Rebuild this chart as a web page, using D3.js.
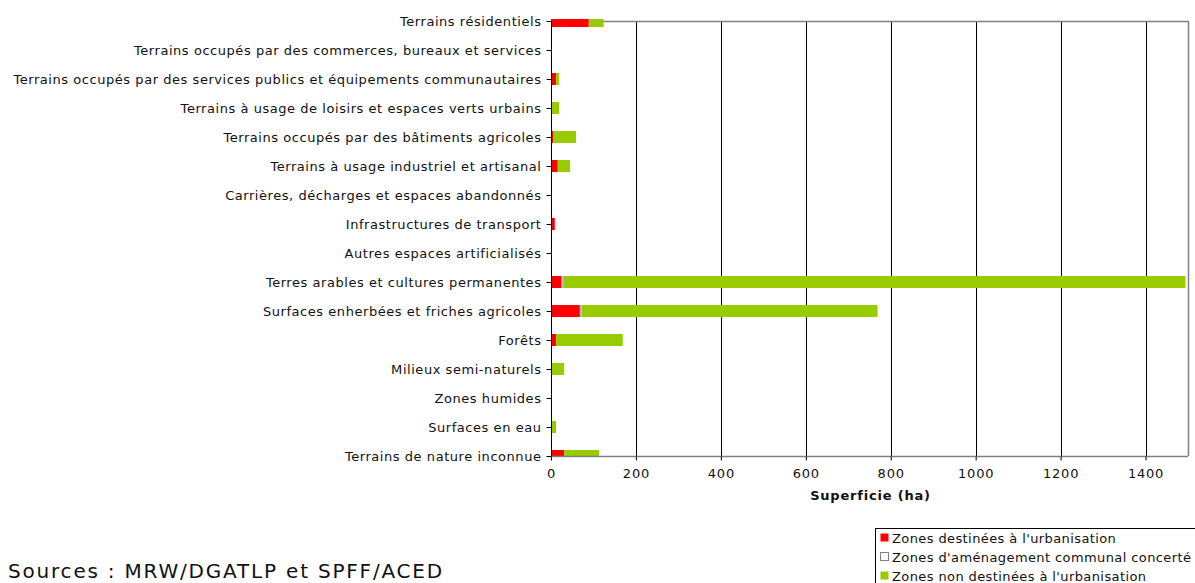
<!DOCTYPE html>
<html>
<head>
<meta charset="utf-8">
<script src="https://cdn.jsdelivr.net/npm/d3@7"></script>
<style>
  html, body { margin: 0; padding: 0; background: #fff; }
  svg { display: block; font-family: "DejaVu Sans", Verdana, sans-serif; }
</style>
</head>
<body>
<svg id="chart" width="1195" height="583"></svg>
<script>
const categories = [
  "Terrains résidentiels",
  "Terrains occupés par des commerces, bureaux et services",
  "Terrains occupés par des services publics et équipements communautaires",
  "Terrains à usage de loisirs et espaces verts urbains",
  "Terrains occupés par des bâtiments agricoles",
  "Terrains à usage industriel et artisanal",
  "Carrières, décharges et espaces abandonnés",
  "Infrastructures de transport",
  "Autres espaces artificialisés",
  "Terres arables et cultures permanentes",
  "Surfaces enherbées et friches agricoles",
  "Forêts",
  "Milieux semi-naturels",
  "Zones humides",
  "Surfaces en eau",
  "Terrains de nature inconnue"
];
const seriesNames = [
  "Zones destinées à l'urbanisation",
  "Zones d'aménagement communal concerté",
  "Zones non destinées à l'urbanisation"
];
const urbanisation    = [89, 0, 12, 0, 5, 16, 0, 9, 0, 25, 68, 12, 0, 0, 0, 31];
const zacc            = [0, 0, 0, 0, 0, 0, 0, 0, 0, 4, 4, 0, 0, 0, 0, 0];
const nonUrbanisation = [35, 0, 7, 19, 54, 29, 0, 0, 0, 1465, 697, 157, 31, 0, 12, 82];
const xTicks = [0, 200, 400, 600, 800, 1000, 1200, 1400];
const xMax = 1500;
const xTitle = "Superficie (ha)";
const sourceText = "Sources : MRW/DGATLP et SPFF/ACED";

const colors = ["#ff0000", "#ffffff", "#99cc00"];
const strokes = [null, "#808080", null];

const svg = d3.select("#chart");
const L = 551, R = 1188, T = 21, B = 456;
const x = d3.scaleLinear().domain([0, xMax]).range([L, R]);
const y = d3.scalePoint().domain(categories).range([T, B]);
const barH = 12;
const FS = "13px", LS = "0.55px";

// gridlines
svg.append("g").selectAll("line").data(xTicks.filter(d => d > 0)).join("line")
  .attr("x1", d => Math.round(x(d)) + 0.5).attr("x2", d => Math.round(x(d)) + 0.5)
  .attr("y1", T).attr("y2", B)
  .attr("stroke", "#000").attr("stroke-width", 1);

// plot border top/right
svg.append("line").attr("x1", L).attr("x2", R + 0.5).attr("y1", T + 0.5).attr("y2", T + 0.5)
  .attr("stroke", "#808080").attr("stroke-width", 1.5);
svg.append("line").attr("x1", R + 0.5).attr("x2", R + 0.5).attr("y1", T).attr("y2", B)
  .attr("stroke", "#808080").attr("stroke-width", 1.5);

// clip
svg.append("clipPath").attr("id", "plotclip").append("rect")
  .attr("x", L).attr("y", T - 2).attr("width", R - L).attr("height", B - T + 2);

const stackData = categories.map((c, i) => ({cat: c, s0: urbanisation[i], s1: zacc[i], s2: nonUrbanisation[i]}));
const stack = d3.stack().keys(["s0", "s1", "s2"])(stackData);

const gBars = svg.append("g").attr("clip-path", "url(#plotclip)");
stack.forEach((layer, k) => {
  gBars.append("g").selectAll("rect").data(layer.filter(d => d[1] - d[0] > 0)).join("rect")
    .attr("x", d => x(d[0]))
    .attr("width", d => x(d[1]) - x(d[0]))
    .attr("y", d => y(d.data.cat) - barH / 2)
    .attr("height", barH)
    .attr("fill", k === 1 ? "#b4b0c8" : colors[k]);
});

// y axis
const yAxis = d3.axisLeft(y).tickSize(5).tickPadding(5);
const gy = svg.append("g").attr("transform", `translate(${L + 0.5},0)`).call(yAxis);
gy.select(".domain").attr("stroke", "#000").attr("d", `M0,${T}V${B}`);
gy.selectAll(".tick line").attr("stroke", "#000");
gy.selectAll(".tick text").attr("font-size", FS).attr("letter-spacing", LS).attr("fill", "#111")
  .attr("font-family", "DejaVu Sans, Verdana, sans-serif");

// x axis
const xAxis = d3.axisBottom(x).tickValues(xTicks).tickSize(4).tickPadding(8).tickFormat(d3.format("d"));
const gx = svg.append("g").attr("transform", `translate(0,${B + 0.5})`).call(xAxis);
gx.select(".domain").attr("stroke", "#808080").attr("stroke-width", 1.5).attr("d", `M${L},0H${R}`);
gx.selectAll(".tick line").attr("stroke", "#000");
gx.selectAll(".tick text").attr("font-size", FS).attr("letter-spacing", "0.8px").attr("fill", "#111")
  .attr("font-family", "DejaVu Sans, Verdana, sans-serif");

svg.append("text").attr("x", (L + R) / 2 + 1).attr("y", 500).attr("text-anchor", "middle")
  .attr("font-size", FS).attr("letter-spacing", "0.8px").attr("font-weight", "bold").attr("fill", "#111").text(xTitle);

// source
svg.append("text").attr("x", 8).attr("y", 578).attr("font-size", "20px").attr("letter-spacing", "1.8px")
  .attr("fill", "#111").attr("font-family", "DejaVu Sans, Verdana, sans-serif").text(sourceText);

// legend
const lg = svg.append("g");
lg.append("rect").attr("x", 875.5).attr("y", 528.5).attr("width", 330).attr("height", 70)
  .attr("fill", "#fff").attr("stroke", "#000").attr("stroke-width", 1);
seriesNames.forEach((n, i) => {
  const cy = 538 + i * 19;
  lg.append("rect").attr("x", 880.5).attr("y", cy - 4.5).attr("width", 8).attr("height", 8)
    .attr("fill", colors[i]).attr("stroke", strokes[i] ? "#808080" : "none").attr("stroke-width", 1);
  lg.append("text").attr("x", 892).attr("y", cy + 4.5).attr("font-size", FS).attr("letter-spacing", "0.4px")
    .attr("fill", "#111").text(n);
});
</script>
</body>
</html>
